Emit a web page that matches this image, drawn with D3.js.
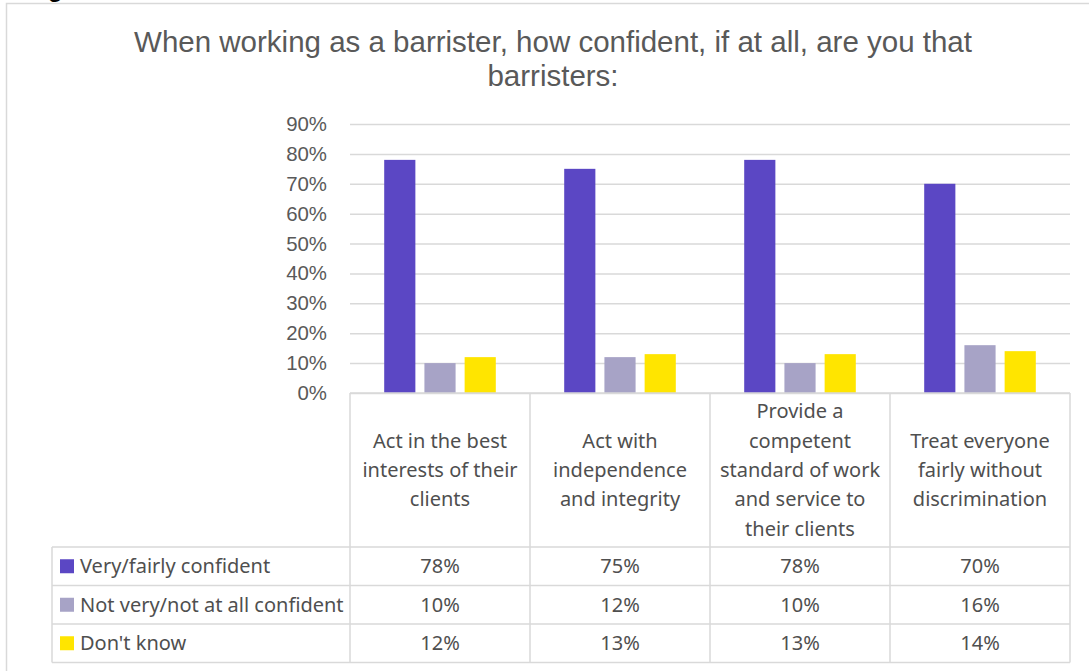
<!DOCTYPE html>
<html>
<head>
<meta charset="utf-8">
<script src="https://cdn.jsdelivr.net/npm/d3@7"></script>
<style>
  body { margin: 0; background: #ffffff; }
  svg { display: block; }
</style>
</head>
<body>
<svg id="chart" width="1089" height="671"></svg>
<script>
// Survey statements (line breaks mark how each header is wrapped)
const categories = [
  "Act in the best\ninterests of their\nclients",
  "Act with\nindependence\nand integrity",
  "Provide a\ncompetent\nstandard of work\nand service to\ntheir clients",
  "Treat everyone\nfairly without\ndiscrimination"
];
const seriesNames = ["Very/fairly confident", "Not very/not at all confident", "Don't know"];
const veryConfident = [78, 75, 78, 70];
const notConfident = [10, 12, 10, 16];
const dontKnow = [12, 13, 13, 14];
const yTicks = [0, 10, 20, 30, 40, 50, 60, 70, 80, 90];
const titleLines = ["When working as a barrister, how confident, if at all, are you that", "barristers:"];

const seriesValues = [veryConfident, notConfident, dontKnow];
const colors = ["#5B47C4", "#A7A3C6", "#FFE500"];

const svg = d3.select("#chart");
const gridColor = "#d9d9d9";
const textColor = "#595959";
const tableText = "#4f4f4f";
const axisFont = "'Liberation Sans', Arial, sans-serif";
const tableFont = "'Noto Sans', sans-serif";

// Page heading fragment peeking in above the chart frame
svg.append("text").attr("x", 48).attr("y", -3)
  .attr("font-family", axisFont).attr("font-weight", "bold").attr("font-size", 24)
  .attr("fill", "#000").text("g");

// Chart frame
svg.append("rect").attr("x", 6.5).attr("y", 3.5).attr("width", 1100).attr("height", 700)
  .attr("fill", "none").attr("stroke", gridColor).attr("stroke-width", 1.5);

// Title
svg.append("g").selectAll("text").data(titleLines).join("text")
  .attr("x", 553).attr("y", (d, i) => 52 + i * 34)
  .attr("text-anchor", "middle")
  .attr("font-family", axisFont).attr("font-size", 29.5).attr("fill", textColor)
  .text(d => d);

// Scales
const x = d3.scaleBand().domain(categories).range([350, 1070]).padding(0);
const xSub = d3.scaleBand().domain(seriesNames)
  .range([x.bandwidth() * 0.19, x.bandwidth() * 0.81]).paddingInner(0.225);
const y = d3.scaleLinear().domain([0, 90]).range([393, 124]);

// Gridlines and value axis
const yAxis = d3.axisLeft(y).tickValues(yTicks).tickSize(-720).tickFormat(d => d + "%");
const gy = svg.append("g").attr("transform", "translate(350,0)").call(yAxis);
gy.select(".domain").remove();
gy.selectAll(".tick line").attr("stroke", gridColor).attr("stroke-width", 1.5);
gy.selectAll(".tick text")
  .attr("x", -23).attr("font-family", axisFont).attr("font-size", 20.4).attr("fill", textColor);

// Bars
const groups = svg.append("g").selectAll("g").data(categories).join("g")
  .attr("transform", d => `translate(${x(d)},0)`);
groups.selectAll("rect")
  .data((c, ci) => seriesNames.map((s, si) => ({ s, si, v: seriesValues[si][ci] })))
  .join("rect")
  .attr("x", d => xSub(d.s))
  .attr("width", xSub.bandwidth())
  .attr("y", d => y(d.v))
  .attr("height", d => y(0) - y(d.v))
  .attr("fill", d => colors[d.si]);

// Data table
const headerTop = y(0), headerBottom = 547, rowH = 38.5;
const tableLeft = 52, tableRight = x.range()[1];
const rowY = i => headerBottom + i * rowH;
const lines = svg.append("g").attr("stroke", gridColor).attr("stroke-width", 1.5);

// horizontal rules
lines.append("line").attr("x1", 350).attr("x2", tableRight).attr("y1", headerTop).attr("y2", headerTop);
d3.range(4).forEach(i => lines.append("line")
  .attr("x1", tableLeft).attr("x2", tableRight).attr("y1", rowY(i)).attr("y2", rowY(i)));
// vertical rules
categories.forEach(c => lines.append("line").attr("x1", x(c)).attr("x2", x(c)).attr("y1", headerTop).attr("y2", rowY(3)));
lines.append("line").attr("x1", tableRight).attr("x2", tableRight).attr("y1", headerTop).attr("y2", rowY(3));
lines.append("line").attr("x1", tableLeft).attr("x2", tableLeft).attr("y1", rowY(0)).attr("y2", rowY(3));

// header labels
const headerMid = (headerTop + headerBottom) / 2;
svg.append("g").selectAll("text").data(categories).join("text")
  .attr("text-anchor", "middle")
  .attr("font-family", tableFont).attr("font-size", 20).attr("fill", tableText)
  .each(function (d) {
    const parts = d.split("\n");
    const lh = 29.3;
    d3.select(this).selectAll("tspan").data(parts).join("tspan")
      .attr("x", x(d) + x.bandwidth() / 2)
      .attr("y", (p, i) => headerMid + (i - (parts.length - 1) / 2) * lh)
      .attr("dy", "0.35em")
      .text(p => p);
  });

// legend rows with keys
const rows = svg.append("g").selectAll("g").data(seriesNames).join("g")
  .attr("transform", (d, i) => `translate(0,${rowY(i) + rowH / 2})`);
rows.append("rect").attr("x", 60).attr("y", -7).attr("width", 14).attr("height", 14)
  .attr("fill", (d, i) => colors[i]);
rows.append("text").attr("x", 80).attr("dy", "0.35em")
  .attr("font-family", tableFont).attr("font-size", 20).attr("fill", tableText)
  .text(d => d);
rows.selectAll("text.val")
  .data((s, si) => categories.map((c, ci) => ({ c, v: seriesValues[si][ci] })))
  .join("text").attr("class", "val")
  .attr("x", d => x(d.c) + x.bandwidth() / 2).attr("dy", "0.35em")
  .attr("text-anchor", "middle")
  .attr("font-family", tableFont).attr("font-size", 20).attr("fill", tableText)
  .text(d => d.v + "%");
</script>
</body>
</html>
